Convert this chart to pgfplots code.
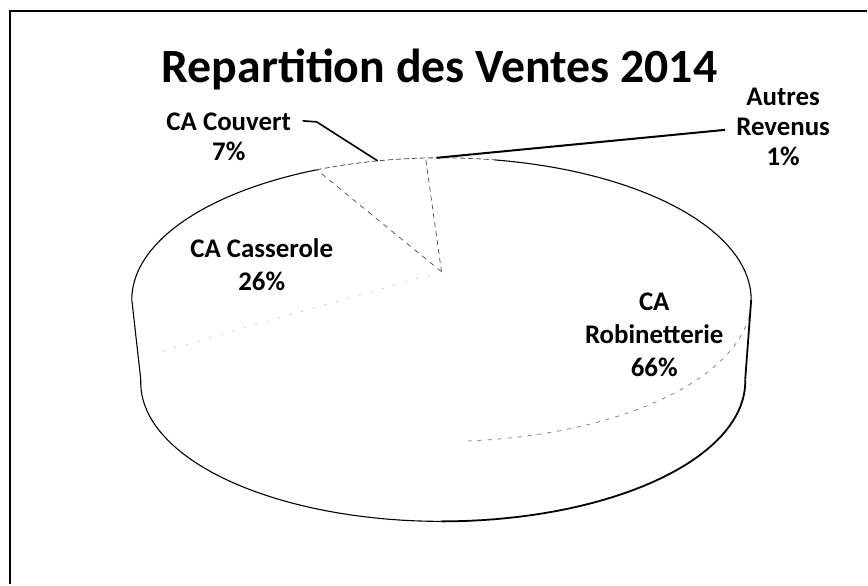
\documentclass[border=0pt]{standalone}
\usepackage{pgfplots}
\pgfplotsset{compat=1.18}
\usepackage{pgfplotstable}
\usepackage{fontspec}
\setmainfont{Carlito}

% shares of 2014 sales, in percent
\pgfplotstableread{
name          share
Robinetterie  66
Casserole     26
Couvert       7
Autres        1
}\ventes

\pgfplotstablegetelem{0}{share}\of\ventes \let\sRob\pgfplotsretval
\pgfplotstablegetelem{1}{share}\of\ventes \let\sCas\pgfplotsretval
\pgfplotstablegetelem{2}{share}\of\ventes \let\sCou\pgfplotsretval
\pgfplotstablegetelem{3}{share}\of\ventes \let\sAut\pgfplotsretval
% slice borders, degrees clockwise from 12 o'clock
\pgfmathsetmacro\bA{3.6*\sRob}
\pgfmathsetmacro\bB{\bA+3.6*\sCas}
\pgfmathsetmacro\bC{\bB+3.6*\sCou}

% top face of the 3d pie, seen in perspective (pixel coordinates)
\pgfmathdeclarefunction{pvx}{1}{\pgfmathparse{442+304*sin(#1)/(1+0.197*cos(#1))}}
\pgfmathdeclarefunction{pvy}{1}{\pgfmathparse{272-136.5*cos(#1)/(1+0.197*cos(#1))}}
\def\depth{80}
\def\eL{258.64}
\def\eR{101.36}

\begin{document}
\begin{tikzpicture}
    \begin{axis}[
            width=868bp,
            height=585bp,
            scale only axis,
            xmin=0, xmax=868,
            ymin=0, ymax=585,
            y dir=reverse,
            hide axis,
            clip=false
        ]
        \path (axis cs:0,0) rectangle (axis cs:868,585);

        % frame of the chart area
        \draw[line width=2bp] (axis cs:10,585) -- (axis cs:10,11) -- (axis cs:868,11);

        % back edge of the top face
        \draw[line width=1.1bp] plot[domain=\eL:\bB, samples=40]
            ({pvx(\x)},{pvy(\x)});
        \draw[line width=0.8bp, black!70, dash pattern=on 5bp off 3bp]
            plot[domain=\bB:372, samples=20] ({pvx(\x)},{pvy(\x)});
        \draw[line width=1.1bp] plot[domain=372:\eR+360, samples=40]
            ({pvx(\x)},{pvy(\x)});

        % side walls and bottom edge
        \draw[line width=1.1bp] ({pvx(\eL)},{pvy(\eL)}) -- ({pvx(\eL)+9},{pvy(\eL)+\depth});
        \draw[line width=1.8bp] ({pvx(\eR)},{pvy(\eR)}) -- ({pvx(\eR)-6},{pvy(\eR)+\depth});
        \draw[line width=1.8bp] plot[domain=\eR:180, samples=40]
            ({pvx(\x)-6*(1-(\x-\eR)/(180-\eR))},{pvy(\x)+\depth});
        \draw[line width=1.1bp] plot[domain=180:\eL, samples=40]
            ({pvx(\x)+9*(\x-180)/(\eL-180)},{pvy(\x)+\depth});

        % front edge of the top face, faint in the scan
        \draw[line width=0.7bp, black!55, dash pattern=on 4bp off 6bp]
            plot[domain=108:176, samples=30] ({pvx(\x)},{pvy(\x)});

        % slice borders
        \draw[line width=0.7bp, black!70, dash pattern=on 5bp off 5bp]
            (axis cs:442,272) -- ({pvx(\bB)},{pvy(\bB)});
        \draw[line width=0.7bp, black!70, dash pattern=on 5bp off 4bp]
            (axis cs:442,272) -- ({pvx(\bC)},{pvy(\bC)});
        \draw[line width=0.6bp, black!25, dash pattern=on 2bp off 10bp]
            (axis cs:442,272) -- ({pvx(\bA)},{pvy(\bA)});

        % leader lines
        \draw[line width=1.6bp] (axis cs:303,121) -- (axis cs:317,122) -- (axis cs:378,161);
        \draw[line width=2bp] (axis cs:437,158) -- (axis cs:726,130);

        % title and labels
        \node[font=\bfseries\fontsize{48}{56}\selectfont] at (axis cs:440,70)
            {Repartition des Ventes 2014};
        \node[align=center, font=\bfseries\fontsize{27}{30}\selectfont] at (axis cs:229,137)
            {CA Couvert\\\sCou\%};
        \node[align=center, font=\bfseries\fontsize{27}{33}\selectfont] at (axis cs:262,265)
            {CA Casserole\\\sCas\%};
        \node[align=center, font=\bfseries\fontsize{27}{33}\selectfont] at (axis cs:655,335)
            {CA\\Robinetterie\\\sRob\%};
        \node[align=center, font=\bfseries\fontsize{27}{30}\selectfont] at (axis cs:784,127)
            {Autres\\Revenus\\\sAut\%};
    \end{axis}
\end{tikzpicture}
\end{document}
